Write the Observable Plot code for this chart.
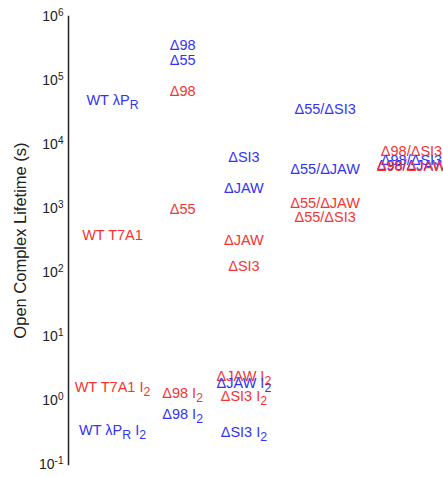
<!DOCTYPE html>
<html><head><meta charset="utf-8">
<script src="https://cdn.jsdelivr.net/npm/d3@7"></script>
<script src="https://cdn.jsdelivr.net/npm/@observablehq/plot@0.6"></script>
<style>body{margin:0;background:#fff}</style>
</head><body><div id="chart"></div>
<script>
// Column groups and their positions along the (hidden) x axis
const groups = ["WT", "single", "fork junction", "Δ55 double", "Δ98 double"];
const groupPos = [1, 1.95, 2.78, 3.88, 5.05];

// Labels ("_X" marks a subscript)
const labels = [
  "WT λP_R", "WT T7A1", "WT T7A1 I_2", "WT λP_R I_2",
  "Δ98", "Δ55", "Δ98", "Δ55", "Δ98 I_2", "Δ98 I_2",
  "ΔSI3", "ΔJAW", "ΔJAW", "ΔSI3", "ΔJAW I_2", "ΔJAW I_2", "ΔSI3 I_2", "ΔSI3 I_2",
  "Δ55/ΔSI3", "Δ55/ΔJAW", "Δ55/ΔJAW", "Δ55/ΔSI3",
  "Δ98/ΔSI3", "Δ98/ΔSI3", "Δ98/ΔJAW", "Δ98/ΔJAW"
];
const promoter = [
  "λPR", "T7A1", "T7A1", "λPR",
  "λPR", "λPR", "T7A1", "T7A1", "T7A1", "λPR",
  "λPR", "λPR", "T7A1", "T7A1", "T7A1", "λPR", "T7A1", "λPR",
  "λPR", "λPR", "T7A1", "T7A1",
  "T7A1", "λPR", "λPR", "T7A1"
];
const group = [
  "WT", "WT", "WT", "WT",
  "single", "single", "single", "single", "single", "single",
  "fork junction", "fork junction", "fork junction", "fork junction", "fork junction", "fork junction", "fork junction", "fork junction",
  "Δ55 double", "Δ55 double", "Δ55 double", "Δ55 double",
  "Δ98 double", "Δ98 double", "Δ98 double", "Δ98 double"
];
// Open complex lifetime (s)
const lifetime = [
  49000, 380, 1.6, 0.34,
  350000, 205000, 68000, 960, 1.3, 0.6,
  6300, 2050, 316, 123, 2.4, 1.85, 1.15, 0.32,
  35000, 4100, 1200, 730,
  7800, 5600, 4700, 4550
];
const yTicks = [0.1, 1, 10, 100, 1000, 10000, 100000, 1000000];

const data = labels.map((l, i) => ({
  label: l, promoter: promoter[i],
  x: groupPos[groups.indexOf(group[i])], y: lifetime[i]
}));

const chart = Plot.plot({
  width: 443, height: 477,
  marginLeft: 68, marginRight: 0, marginTop: 16, marginBottom: 13,
  style: {fontFamily: "'Liberation Sans', Arial, sans-serif", background: "#fff"},
  x: {domain: [groupPos[0], groupPos[4]], range: [112, 411], axis: null},
  y: {type: "log", domain: [0.1, 1000000]},
  color: {domain: ["λPR", "T7A1"], range: ["#3333f6", "#f63333"]},
  marks: [
    Plot.frame({anchor: "left", stroke: "#222", strokeWidth: 1.5}),
    Plot.axisY({ticks: yTicks, tickSize: 0, tickPadding: 5, fontSize: 14, fill: "#222",
      tickFormat: d => "10^" + Math.round(Math.log10(d)), label: null}),
    Plot.text(["Open Complex Lifetime (s)"], {frameAnchor: "left", textAnchor: "middle",
      rotate: -90, dx: -48, fontSize: 16.5, fill: "#222"}),
    Plot.text(data, {x: "x", y: "y", text: "label", fill: "promoter", fontSize: 14.5})
  ]
});
document.getElementById("chart").appendChild(chart);

const NS = "http://www.w3.org/2000/svg";
d3.select(chart).selectAll("text").each(function() {
  if (this.querySelector("tspan")) return;
  const s = this.textContent;
  if (s.includes("_")) {
    const parts = s.split(/_(\w)/);
    this.textContent = "";
    let lowered = false;
    parts.forEach((p, i) => {
      if (p === "") return;
      const t = document.createElementNS(NS, "tspan");
      t.textContent = p;
      if (i % 2 === 1) {
        t.setAttribute("dy", "0.3em"); t.setAttribute("font-size", "85%"); lowered = true;
      } else if (lowered) {
        t.setAttribute("dy", "-0.26em"); lowered = false;
      }
      this.appendChild(t);
    });
  } else if (/^\d+\^/.test(s)) {
    const m = s.match(/^(\d+)\^(.*)$/);
    this.textContent = "";
    const a = document.createElementNS(NS, "tspan"); a.textContent = m[1]; this.appendChild(a);
    const b = document.createElementNS(NS, "tspan"); b.textContent = m[2];
    b.setAttribute("dy", "-0.45em"); b.setAttribute("font-size", "72%"); this.appendChild(b);
  }
});
</script>
</body></html>
